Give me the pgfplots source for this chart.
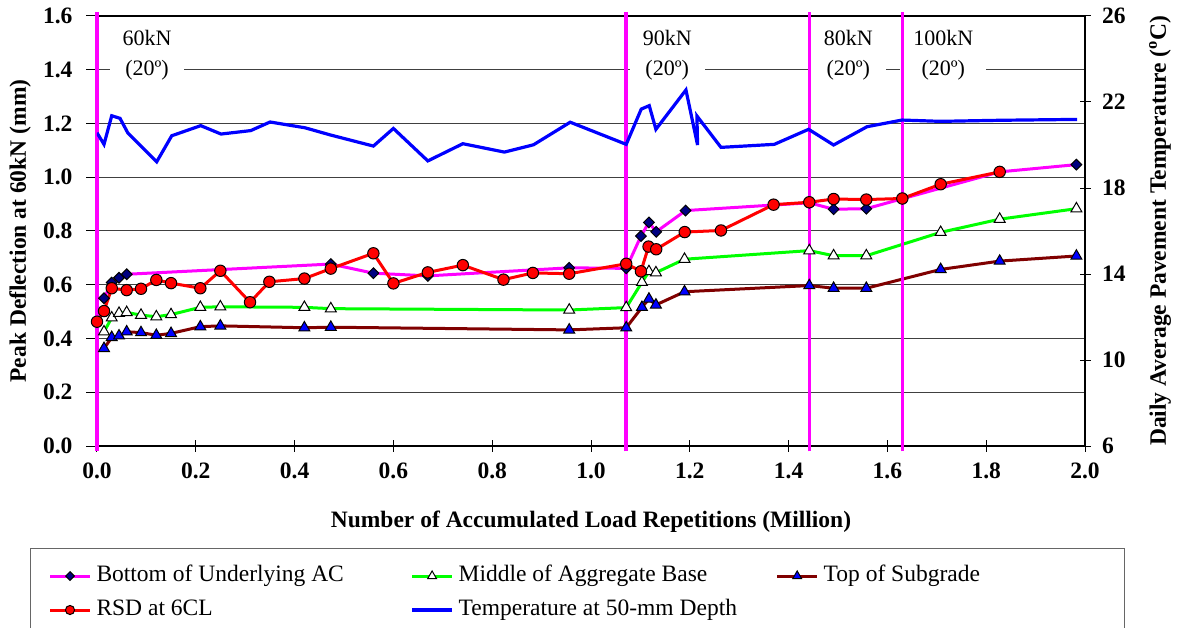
\documentclass[border=0pt]{standalone}
\usepackage{pgfplots}
\pgfplotsset{compat=1.18}
\usepackage{fontspec}
\setmainfont{Liberation Serif}

\definecolor{acpink}{RGB}{255,0,255}
\definecolor{navy}{RGB}{0,0,128}
\definecolor{basegreen}{RGB}{0,255,0}
\definecolor{maroon}{RGB}{128,0,0}
\definecolor{rsdred}{RGB}{255,0,0}
\definecolor{tempblue}{RGB}{0,0,255}

\newcommand{\bigfont}{\fontsize{23.5bp}{28bp}\selectfont}
\newcommand{\notefont}{\fontsize{22bp}{30bp}\selectfont}

\tikzset{
  loadnote/.style={fill=white, align=center, font=\notefont, inner xsep=13bp, inner ysep=1bp},
}

\pgfplotsset{
  shared/.style={
    scale only axis, width=988bp, height=430bp,
    xmin=0, xmax=2,
    major tick length=11bp,
    tick style={black, line width=1bp},
    axis line style={black, line width=1.3bp},
    ticklabel style={font=\bigfont\bfseries},
    /pgf/number format/assume math mode=true,
  },
  acstyle/.style={acpink, line width=3bp, mark=square*, mark size=3.8bp,
    mark options={rotate=45, fill=navy, draw=black, line width=1bp}},
  basestyle/.style={basegreen, line width=3bp, mark=triangle*, mark size=6.3bp,
    mark options={fill=white, draw=black, line width=1bp}},
  subgstyle/.style={maroon, line width=3bp, mark=triangle*, mark size=6.3bp,
    mark options={fill=tempblue, draw=black, line width=1bp}},
  rsdstyle/.style={rsdred, line width=3bp, mark=*, mark size=5.7bp,
    mark options={fill=rsdred, draw=black, line width=1bp}},
  tempstyle/.style={tempblue, line width=3.2bp, mark=none},
  loadline/.style={acpink, line width=3.5bp, mark=none},
}

\begin{document}
\begin{tikzpicture}
\path[use as bounding box] (-97bp,-182bp) rectangle (1080bp,446bp);

% deflections (left axis)
\begin{axis}[shared,
  ymin=0, ymax=1.6, clip=false,
  xtick={0,0.2,0.4,0.6,0.8,1.0,1.2,1.4,1.6,1.8,2.0},
  ytick={0,0.2,0.4,0.6,0.8,1.0,1.2,1.4,1.6},
  tick pos=left,
  xtick align=center, ytick align=outside,
  xticklabel style={yshift=-8bp, /pgf/number format/.cd, fixed, fixed zerofill, precision=1},
  yticklabel style={xshift=-10bp, /pgf/number format/.cd, fixed, fixed zerofill, precision=1},
  ymajorgrids,
  major grid style={black!75, line width=1bp},
  xlabel={Number of Accumulated Load Repetitions (Million)},
  ylabel={Peak Deflection at 60kN (mm)},
  every axis x label/.style={at={(axis description cs:0.5,-0.1767)}, anchor=center,
    font=\bigfont\bfseries},
  every axis y label/.style={at={(axis description cs:-0.0779,0.5)}, rotate=90,
    anchor=center, font=\bigfont\bfseries},
]
% load levels, written over the grid
\node[loadnote] at (axis cs:0.1013,1.455) {60kN\\(20º)};
\node[loadnote] at (axis cs:1.1543,1.455) {90kN\\(20º)};
\node[loadnote] at (axis cs:1.5209,1.455) {80kN\\(20º)};
\node[loadnote] at (axis cs:1.7132,1.455) {100kN\\(20º)};
\addplot[acstyle] coordinates {
  (0.0142,0.550) (0.0298,0.608) (0.0446,0.626) (0.0601,0.639) (0.4733,0.677)
  (0.5595,0.643) (0.6697,0.633) (0.9559,0.663) (1.0713,0.661) (1.1011,0.781)
  (1.1173,0.832) (1.1320,0.797) (1.1914,0.876) (1.4419,0.905) (1.4911,0.881)
  (1.5573,0.883) (1.6302,0.920) (1.8273,1.020) (1.9826,1.047)};
\addplot[basestyle] coordinates {
  (0.0142,0.425) (0.0298,0.477) (0.0446,0.494) (0.0601,0.497) (0.0891,0.487)
  (0.1201,0.481) (0.1499,0.489) (0.2092,0.516) (0.2497,0.518) (0.4198,0.516)
  (0.4733,0.511) (0.9559,0.506) (1.0713,0.515) (1.1031,0.609) (1.1173,0.649)
  (1.1314,0.645) (1.1893,0.695) (1.4419,0.727) (1.4911,0.708) (1.5573,0.708)
  (1.7078,0.795) (1.8273,0.844) (1.9826,0.883)};
\addplot[subgstyle] coordinates {
  (0.0142,0.363) (0.0298,0.404) (0.0446,0.410) (0.0601,0.425) (0.0891,0.422)
  (0.1201,0.412) (0.1499,0.419) (0.2092,0.444) (0.2497,0.447) (0.4198,0.440)
  (0.4733,0.442) (0.9559,0.432) (1.0713,0.440) (1.1031,0.516) (1.1173,0.547)
  (1.1314,0.525) (1.1893,0.574) (1.4419,0.597) (1.4911,0.587) (1.5573,0.587)
  (1.7078,0.657) (1.8273,0.688) (1.9826,0.707)};
% load-level changes
\addplot[loadline] coordinates {(0,-0.02) (0,1.615)};
\addplot[loadline] coordinates {(1.0713,-0.02) (1.0713,1.615)};
\addplot[loadline] coordinates {(1.4419,-0.02) (1.4419,1.615)};
\addplot[loadline] coordinates {(1.6302,-0.02) (1.6302,1.615)};
\addplot[rsdstyle] coordinates {
  (0,0.4625) (0.0142,0.502) (0.0298,0.587) (0.0601,0.580) (0.0891,0.585)
  (0.1201,0.618) (0.1499,0.606) (0.2092,0.587) (0.2497,0.652) (0.3098,0.535)
  (0.3489,0.611) (0.4198,0.623) (0.4733,0.660) (0.5595,0.717) (0.6000,0.605)
  (0.6697,0.646) (0.7406,0.673) (0.8228,0.619) (0.8823,0.644) (0.9559,0.641)
  (1.0713,0.678) (1.1011,0.650) (1.1165,0.742) (1.1320,0.732) (1.1897,0.796)
  (1.2631,0.802) (1.3696,0.898) (1.4419,0.907) (1.4911,0.919) (1.5573,0.917)
  (1.6302,0.921) (1.7078,0.974) (1.8273,1.020)};
\end{axis}

% temperature (right axis) and the legend
\begin{axis}[shared,
  ymin=6, ymax=26,
  ytick={6,10,14,18,22,26},
  hide x axis,
  axis y line*=right,
  ytick align=center,
  yticklabel style={anchor=west, xshift=8bp},
  ylabel={Daily Average Pavement Temperature (\textsuperscript{o}C)},
  every axis y label/.style={at={(axis description cs:1.0759,0.5)}, rotate=90,
    anchor=center, font=\bigfont\bfseries},
  legend columns=3,
  legend cell align=left,
  legend image code/.code={
    \draw[mark repeat=2, mark phase=2, #1, every mark/.append style={scale=0.8}]
      plot coordinates {(0bp,0bp) (20bp,0bp) (40bp,0bp)};},
  legend style={
    at={(axis description cs:-0.06781,-0.23721)}, anchor=north west,
    draw=black!60, line width=1bp, fill=white,
    inner xsep=18bp, inner ysep=16bp,
    font=\bigfont,
    row sep=11bp,
    nodes={inner sep=0pt, text height=17bp, text depth=6bp},
    /tikz/every odd column/.style={column sep=5bp},
    /tikz/every even column/.style={column sep=0bp},
  },
]
\addlegendimage{acstyle}
\addlegendentry{\makebox[314bp][l]{Bottom of Underlying AC}}
\addlegendimage{basestyle}
\addlegendentry{\makebox[317bp][l]{Middle of Aggregate Base}}
\addlegendimage{subgstyle}
\addlegendentry{\makebox[283bp][l]{Top of Subgrade}}
\addlegendimage{rsdstyle}
\addlegendentry{\makebox[314bp][l]{RSD at 6CL}}
\addplot[tempstyle] coordinates {
  (0,20.57) (0.0142,20.03) (0.0298,21.36) (0.0466,21.24) (0.0622,20.57)
  (0.1209,19.22) (0.1513,20.43) (0.2100,20.90) (0.2511,20.51) (0.3113,20.67)
  (0.3504,21.07) (0.4212,20.80) (0.4719,20.47) (0.5595,19.95) (0.6000,20.77)
  (0.6697,19.26) (0.7406,20.06) (0.8248,19.67) (0.8836,20.01) (0.9579,21.06)
  (1.0713,20.03) (1.1017,21.67) (1.1179,21.83) (1.1314,20.73) (1.1922,22.56)
  (1.2157,20.00) (1.2144,21.35) (1.2631,19.89) (1.3710,20.03) (1.4405,20.73)
  (1.4911,20.00) (1.5587,20.85) (1.6296,21.16) (1.7072,21.10) (1.8287,21.15)
  (1.9840,21.19)};
\addlegendentry{\makebox[317bp][l]{Temperature at 50-mm Depth}}
\end{axis}
\end{tikzpicture}
\end{document}
